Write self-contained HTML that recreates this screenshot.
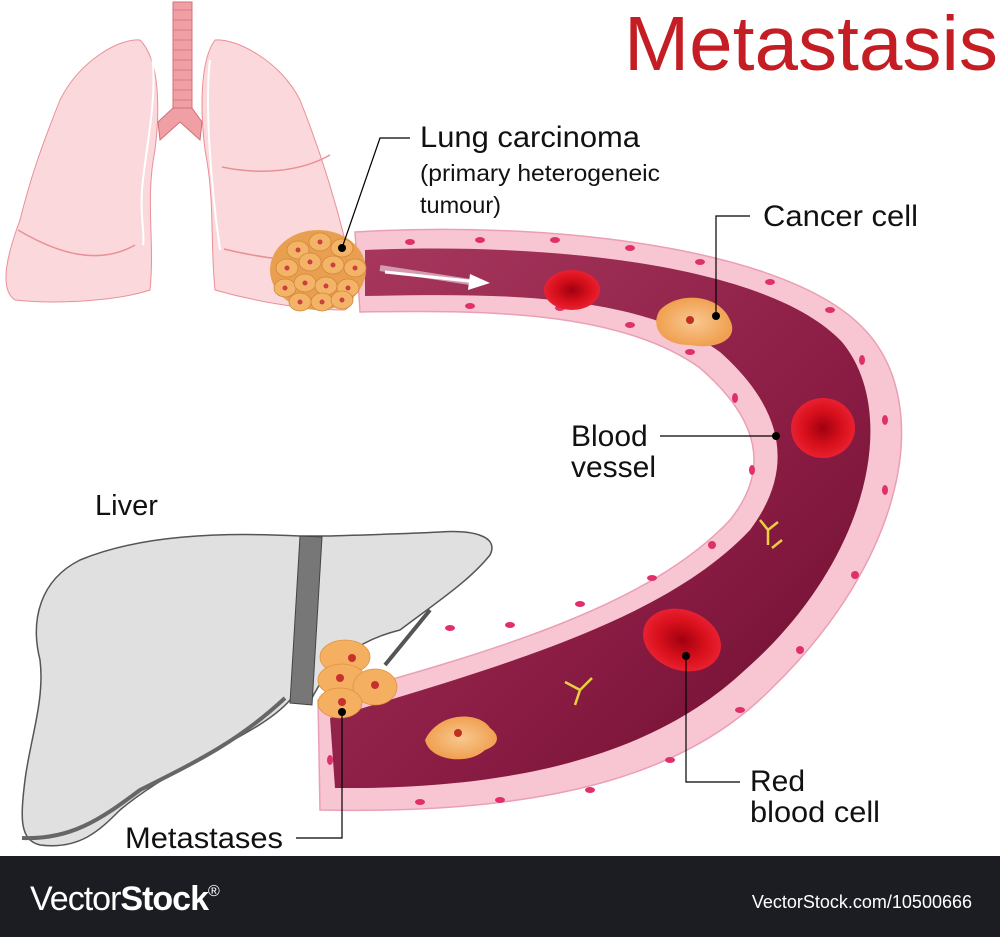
<!DOCTYPE html>
<html><head><meta charset="utf-8"><style>
html,body{margin:0;padding:0;background:#fff;width:1000px;height:937px;overflow:hidden}
svg{display:block}
text{font-family:"Liberation Sans",Arial,sans-serif}
</style></head><body>
<svg width="1000" height="937" viewBox="0 0 1000 937" xmlns="http://www.w3.org/2000/svg">
<defs>
<linearGradient id="ves" x1="0" y1="0" x2="1" y2="1">
<stop offset="0" stop-color="#a8385e"/><stop offset="0.6" stop-color="#8a1c44"/><stop offset="1" stop-color="#6a0c2c"/>
</linearGradient>
<radialGradient id="rbc"><stop offset="0" stop-color="#a00010"/><stop offset="0.6" stop-color="#d8101c"/><stop offset="1" stop-color="#e82030"/></radialGradient>
<radialGradient id="cc"><stop offset="0" stop-color="#f8c890"/><stop offset="1" stop-color="#f0a050"/></radialGradient>
</defs>
<!-- lungs -->
<path d="M140,40 C120,38 80,60 60,100 C40,150 30,180 20,220 C5,260 0,290 15,300 C60,305 120,300 150,290 C155,240 145,200 155,150 C160,110 160,60 140,40 Z" fill="#fbd8dc" stroke="#e89098" stroke-width="1"/>
<path d="M215,40 C235,38 280,60 300,100 C320,150 335,200 345,240 C355,270 360,300 345,310 C300,310 250,300 215,290 C210,240 215,200 205,150 C200,110 200,60 215,40 Z" fill="#fbd8dc" stroke="#e89098" stroke-width="1"/>
<path d="M18,230 C60,255 100,265 135,245 M222,167 C260,175 300,172 330,155 M224,249 C260,258 300,262 320,262" stroke="#e89098" fill="none" stroke-width="1.5"/>
<path d="M152,55 C158,100 145,150 142,190 C140,215 145,235 143,245 M210,60 C205,100 210,180 220,250" stroke="#fff" fill="none" stroke-width="2"/>
<rect x="173" y="2" width="19" height="108" fill="#f0a0a4" stroke="#d07078"/>
<g stroke="#d07078" stroke-width="0.8">
<line x1="173" y1="10" x2="192" y2="10"/><line x1="173" y1="20" x2="192" y2="20"/><line x1="173" y1="30" x2="192" y2="30"/><line x1="173" y1="40" x2="192" y2="40"/><line x1="173" y1="50" x2="192" y2="50"/><line x1="173" y1="60" x2="192" y2="60"/><line x1="173" y1="70" x2="192" y2="70"/><line x1="173" y1="80" x2="192" y2="80"/><line x1="173" y1="90" x2="192" y2="90"/><line x1="173" y1="100" x2="192" y2="100"/></g>
<path d="M173,108 L158,122 L160,140 L180,122 L200,140 L202,122 L192,108 Z" fill="#f0a0a4" stroke="#d07078"/>
<!-- vessel -->
<path d="M355,232 C550,220 790,248 865,330 C935,405 905,560 770,690 C690,770 560,815 320,810 L318,700 C500,650 650,605 730,520 C770,470 760,420 700,368 C620,310 480,310 360,312 Z" fill="#f8c6d2" stroke="#eaa0b4" stroke-width="1.5"/>
<path d="M365,250 C550,242 770,265 842,342 C900,412 870,560 745,670 C670,740 550,790 335,788 L330,718 C505,665 665,620 750,530 C795,470 785,410 720,352 C635,290 480,294 365,296 Z" fill="url(#ves)"/>
<path d="M380,268 L470,282" stroke="#f4e0ea" stroke-width="6" opacity="0.6"/>
<path d="M385,272 L478,282" stroke="#fff" stroke-width="3"/>
<path d="M470,274 L490,283 L468,290 Z" fill="#fff"/>
<!-- wall nuclei -->
<g fill="#e0306a">
<ellipse cx="410" cy="242" rx="5" ry="3"/><ellipse cx="480" cy="240" rx="5" ry="3"/><ellipse cx="555" cy="240" rx="5" ry="3"/><ellipse cx="630" cy="248" rx="5" ry="3"/><ellipse cx="700" cy="262" rx="5" ry="3"/><ellipse cx="770" cy="282" rx="5" ry="3"/><ellipse cx="830" cy="310" rx="5" ry="3"/><ellipse cx="862" cy="360" rx="3" ry="5"/><ellipse cx="885" cy="420" rx="3" ry="5"/><ellipse cx="885" cy="490" rx="3" ry="5"/><ellipse cx="855" cy="575" rx="4" ry="4"/><ellipse cx="800" cy="650" rx="4" ry="4"/><ellipse cx="740" cy="710" rx="5" ry="3"/><ellipse cx="670" cy="760" rx="5" ry="3"/><ellipse cx="590" cy="790" rx="5" ry="3"/><ellipse cx="500" cy="800" rx="5" ry="3"/><ellipse cx="420" cy="802" rx="5" ry="3"/><ellipse cx="330" cy="760" rx="3" ry="5"/>
<ellipse cx="470" cy="306" rx="5" ry="3"/><ellipse cx="560" cy="308" rx="5" ry="3"/><ellipse cx="630" cy="325" rx="5" ry="3"/><ellipse cx="690" cy="352" rx="5" ry="3"/><ellipse cx="735" cy="398" rx="3" ry="5"/><ellipse cx="752" cy="470" rx="3" ry="5"/><ellipse cx="712" cy="545" rx="4" ry="4"/><ellipse cx="652" cy="578" rx="5" ry="3"/><ellipse cx="580" cy="604" rx="5" ry="3"/><ellipse cx="510" cy="625" rx="5" ry="3"/><ellipse cx="450" cy="628" rx="5" ry="3"/></g>
<!-- RBCs -->
<ellipse cx="572" cy="290" rx="28" ry="20" fill="url(#rbc)"/>
<ellipse cx="823" cy="428" rx="32" ry="30" fill="url(#rbc)"/>
<ellipse cx="682" cy="640" rx="40" ry="30" transform="rotate(20 682 640)" fill="url(#rbc)"/>
<!-- cancer cells -->
<path d="M660,310 C680,290 720,295 730,320 C740,340 715,350 690,345 C660,345 650,325 660,310 Z" fill="url(#cc)"/>
<circle cx="690" cy="320" r="4" fill="#c03020"/>
<path d="M425,740 C440,710 480,712 490,728 C500,735 500,745 485,750 C470,765 430,762 425,740 Z" fill="url(#cc)"/>
<circle cx="458" cy="733" r="4" fill="#c03020"/>
<!-- antibodies -->
<g stroke="#e8d040" stroke-width="2.5" fill="none">
<path d="M768,545 L768,530 L760,520 M768,530 L778,522 M772,548 L782,540"/>
<path d="M580,690 L575,705 M580,690 L565,682 M580,690 L592,678"/>
</g>
<!-- tumour -->
<g>
<ellipse cx="318" cy="270" rx="48" ry="40" fill="#e8a050"/>
<g fill="#f4b468" stroke="#d08838" stroke-width="0.8">
<ellipse cx="298" cy="250" rx="11" ry="9"/><ellipse cx="320" cy="242" rx="11" ry="9"/><ellipse cx="342" cy="248" rx="11" ry="9"/><ellipse cx="287" cy="268" rx="11" ry="9"/><ellipse cx="310" cy="262" rx="11" ry="9"/><ellipse cx="333" cy="265" rx="11" ry="9"/><ellipse cx="355" cy="268" rx="11" ry="9"/><ellipse cx="285" cy="288" rx="11" ry="9"/><ellipse cx="305" cy="283" rx="11" ry="9"/><ellipse cx="326" cy="286" rx="11" ry="9"/><ellipse cx="348" cy="288" rx="11" ry="9"/><ellipse cx="300" cy="302" rx="11" ry="9"/><ellipse cx="322" cy="302" rx="11" ry="9"/><ellipse cx="342" cy="300" rx="11" ry="9"/></g>
<g fill="#c84040"><circle cx="298" cy="250" r="2.5"/><circle cx="320" cy="242" r="2.5"/><circle cx="342" cy="248" r="2.5"/><circle cx="287" cy="268" r="2.5"/><circle cx="310" cy="262" r="2.5"/><circle cx="333" cy="265" r="2.5"/><circle cx="355" cy="268" r="2.5"/><circle cx="285" cy="288" r="2.5"/><circle cx="305" cy="283" r="2.5"/><circle cx="326" cy="286" r="2.5"/><circle cx="348" cy="288" r="2.5"/><circle cx="300" cy="302" r="2.5"/><circle cx="322" cy="302" r="2.5"/><circle cx="342" cy="300" r="2.5"/></g>
</g>
<!-- liver -->
<path d="M300,536 C220,532 140,535 80,560 C40,580 30,620 40,660 C45,700 30,740 25,780 C20,820 20,840 40,845 C80,850 100,830 120,810 C180,760 260,735 290,700 L310,702 C330,660 360,640 400,630 C440,600 470,580 490,555 C500,535 470,530 440,532 C400,534 360,535 330,536 Z" fill="#e0e0e0" stroke="#555" stroke-width="1.5"/>
<path d="M300,536 L322,537 L312,705 L290,703 Z" fill="#777" stroke="#444"/>
<path d="M22,838 C70,840 100,820 140,790 C200,760 240,740 285,698" stroke="#666" stroke-width="4" fill="none"/>
<path d="M385,665 L430,610" stroke="#555" stroke-width="4"/>
<g fill="#f4b060" stroke="#e09040" stroke-width="0.8">
<ellipse cx="345" cy="657" rx="25" ry="17"/><ellipse cx="342" cy="680" rx="24" ry="16"/><ellipse cx="375" cy="687" rx="22" ry="18"/><ellipse cx="340" cy="703" rx="22" ry="15"/></g>
<g fill="#c83030"><circle cx="352" cy="658" r="4"/><circle cx="340" cy="678" r="4"/><circle cx="375" cy="685" r="4"/><circle cx="342" cy="702" r="4"/></g>
<!-- leader lines -->
<g stroke="#000" stroke-width="1.2" fill="none">
<path d="M342,248 L380,138 L410,138"/>
<path d="M716,316 L716,216 L750,216"/>
<path d="M660,436 L776,436"/>
<path d="M686,656 L686,782 L740,782"/>
<path d="M342,712 L342,838 L296,838"/>
</g>
<g fill="#000"><circle cx="342" cy="248" r="4"/><circle cx="716" cy="316" r="4"/><circle cx="776" cy="436" r="4"/><circle cx="686" cy="656" r="4"/><circle cx="342" cy="712" r="4"/></g>
<!-- labels -->
<text x="624" y="70" font-size="77" fill="#c41e24" textLength="374" lengthAdjust="spacingAndGlyphs">Metastasis</text>
<text x="420" y="147" font-size="30" fill="#111" textLength="220" lengthAdjust="spacingAndGlyphs">Lung carcinoma</text>
<text x="420" y="181" font-size="23.5" fill="#111" textLength="240" lengthAdjust="spacingAndGlyphs">(primary heterogeneic</text>
<text x="420" y="213" font-size="23.5" fill="#111">tumour)</text>
<text x="763" y="226" font-size="30" fill="#111" textLength="155" lengthAdjust="spacingAndGlyphs">Cancer cell</text>
<text x="571" y="446" font-size="30" fill="#111">Blood</text>
<text x="571" y="477" font-size="30" fill="#111">vessel</text>
<text x="95" y="515" font-size="29" fill="#111">Liver</text>
<text x="750" y="791" font-size="30" fill="#111">Red</text>
<text x="750" y="822" font-size="30" fill="#111" textLength="130" lengthAdjust="spacingAndGlyphs">blood cell</text>
<text x="125" y="848" font-size="30" fill="#111" textLength="158" lengthAdjust="spacingAndGlyphs">Metastases</text>
<!-- footer -->
<rect x="0" y="856" width="1000" height="81" fill="#1b1d22"/>
<text x="30" y="910" font-size="34" fill="#fff" letter-spacing="-1">Vector<tspan font-weight="bold">Stock</tspan><tspan font-size="16" dy="-14">®</tspan></text>
<text x="972" y="908" font-size="18" fill="#fff" text-anchor="end">VectorStock.com/10500666</text>
</svg>
</body></html>
